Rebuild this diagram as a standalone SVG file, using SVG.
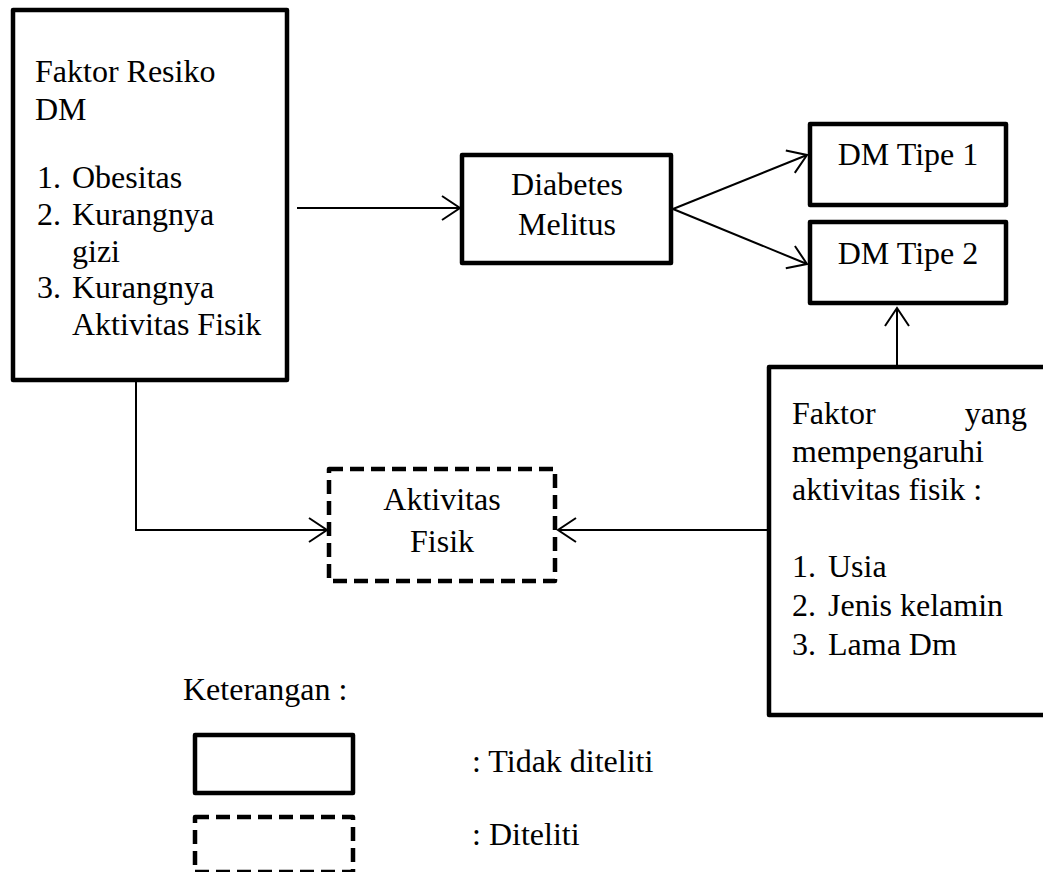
<svg xmlns="http://www.w3.org/2000/svg" width="1043" height="872" viewBox="0 0 1043 872">
<style>
text{font-family:"Liberation Serif","Times New Roman",serif;font-size:32px;fill:#000}
.c{text-anchor:middle}
.box{fill:#fff;stroke:#000;stroke-width:4.5;stroke-linejoin:round}
.dash{fill:#fff;stroke:#000;stroke-width:4.5;stroke-dasharray:14 7;stroke-linejoin:round}
.ln{fill:none;stroke:#000;stroke-width:2}
</style>
<defs>
<marker id="arr" markerUnits="userSpaceOnUse" viewBox="-20 -14 22 28" markerWidth="22" markerHeight="28" refX="0" refY="0" orient="auto">
<path d="M-18,-12 L0,0 L-18,12" fill="none" stroke="#000" stroke-width="2"/>
</marker>
</defs>
<rect width="1043" height="872" fill="#fff"/>
<g id="connectors">
<line class="ln" x1="297" y1="208" x2="460" y2="208" marker-end="url(#arr)"/>
<line class="ln" x1="673" y1="209" x2="807" y2="155" marker-end="url(#arr)"/>
<line class="ln" x1="673" y1="209" x2="807" y2="264" marker-end="url(#arr)"/>
<line class="ln" x1="897" y1="365" x2="897" y2="308" marker-end="url(#arr)"/>
<polyline class="ln" points="136,382 136,530 327,530" marker-end="url(#arr)"/>
<line class="ln" x1="767" y1="530" x2="558" y2="530" marker-end="url(#arr)"/>
</g>
<g id="faktor-resiko">
<rect class="box" x="13" y="10" width="274" height="370"/>
<text x="35" y="82">Faktor Resiko</text>
<text x="35" y="120">DM</text>
<text x="37" y="188">1.</text><text x="72" y="188">Obesitas</text>
<text x="37" y="225">2.</text><text x="72" y="225">Kurangnya</text>
<text x="72" y="262">gizi</text>
<text x="37" y="298">3.</text><text x="72" y="298">Kurangnya</text>
<text x="72" y="335">Aktivitas Fisik</text>
</g>
<g id="diabetes">
<rect class="box" x="462" y="155" width="209" height="108"/>
<text class="c" x="567" y="195">Diabetes</text>
<text class="c" x="567" y="235">Melitus</text>
</g>
<g id="dm-tipe-1">
<rect class="box" x="810" y="124" width="196" height="81"/>
<text class="c" x="908" y="165">DM Tipe 1</text>
</g>
<g id="dm-tipe-2">
<rect class="box" x="810" y="222" width="196" height="81"/>
<text class="c" x="908" y="264">DM Tipe 2</text>
</g>
<g id="faktor-aktivitas">
<rect class="box" x="769" y="367" width="300" height="348"/>
<text x="792" y="424">Faktor</text>
<text x="1027" y="424" text-anchor="end">yang</text>
<text x="792" y="462">mempengaruhi</text>
<text x="792" y="500">aktivitas fisik :</text>
<text x="792" y="577">1.</text><text x="828" y="577">Usia</text>
<text x="792" y="616">2.</text><text x="828" y="616">Jenis kelamin</text>
<text x="792" y="655">3.</text><text x="828" y="655">Lama Dm</text>
</g>
<g id="aktivitas-fisik">
<rect class="dash" x="329" y="469" width="226" height="112"/>
<text class="c" x="442" y="510">Aktivitas</text>
<text class="c" x="442" y="552">Fisik</text>
</g>
<g id="legend">
<text x="183" y="700">Keterangan :</text>
<rect class="box" x="195" y="735" width="158" height="58"/>
<text x="472" y="772">: Tidak diteliti</text>
<rect class="dash" x="195" y="817" width="158" height="55"/>
<text x="472" y="845">: Diteliti</text>
</g>
</svg>
